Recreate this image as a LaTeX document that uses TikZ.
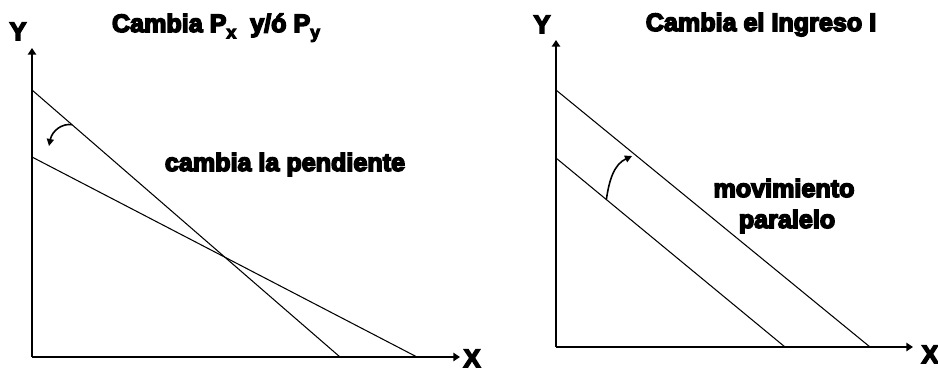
\documentclass[tikz,border=0pt]{standalone}
\usepackage{fontspec}
\newfontfamily\heavyfont{Liberation Sans}[UprightFont=* Bold,FakeBold=6]
\usetikzlibrary{arrows.meta}
\newcommand\lowsub[1]{\raisebox{-0.25em}{\fontsize{10}{10}\selectfont #1}}
\tikzset{
  axisarr/.style={-{Triangle[length=3.8pt,width=4.8pt]},line width=1.3pt,
                  draw=black},
  budgetline/.style={line width=0.6pt,draw=black},
  movearr/.style={-{Triangle[length=4pt,width=4pt]},line width=0.9pt,
                  draw=black},
  heavylabel/.style={font=\heavyfont\fontsize{14.3}{16}\selectfont,
                     inner sep=0pt,anchor=base}
}
\begin{document}
\begin{tikzpicture}[x=0.02cm,y=-0.02cm]
    \path[use as bounding box] (0,0) rectangle (938,372);

    % left panel: the price changes
    \coordinate (oL) at (32,357);
    \coordinate (yL) at (32,48);
    \coordinate (xL) at (460,357);
    \draw[axisarr] (oL) -- (yL);
    \draw[axisarr] (oL) -- (xL);
    \node[heavylabel] (labYL) at (18,40) {Y};
    \node[heavylabel] (labXL) at (472,367) {X};
    \node[heavylabel] (titleL) at (216,32)
      {Cambia P\lowsub{x}\ \ y/ó P\lowsub{y}};
    \draw[budgetline] (32,90) -- coordinate[pos=0.13] (onSteep) (340,357);
    \draw[budgetline] (32,157) -- (417,357);
    \coordinate (tipL) at (49,146);
    \draw[movearr] (onSteep) .. controls (62,123) and (52,131) .. (tipL);
    \node[heavylabel] (slopeTxt) at (285,171) {cambia la pendiente};

    % right panel: the income changes
    \coordinate (oR) at (556,347);
    \coordinate (yR) at (556,40);
    \coordinate (xR) at (913,347);
    \draw[axisarr] (oR) -- (yR);
    \draw[axisarr] (oR) -- (xR);
    \node[heavylabel] (labYR) at (542,33) {Y};
    \node[heavylabel] (labXR) at (930,363) {X};
    \node[heavylabel] (titleR) at (761,31) {Cambia el Ingreso I};
    \draw[budgetline] (556,90) -- (870,347);
    \draw[budgetline] (556,158) -- coordinate[pos=0.22] (onLow) (785,347);
    \coordinate (tipR) at (632,156);
    \draw[movearr] (onLow) to[out=82,in=205] (tipR);
    \node[heavylabel] (moveTxtA) at (784,197) {movimiento};
    \node[heavylabel] (moveTxtB) at (787,228) {paralelo};
  \end{tikzpicture}
\end{document}
